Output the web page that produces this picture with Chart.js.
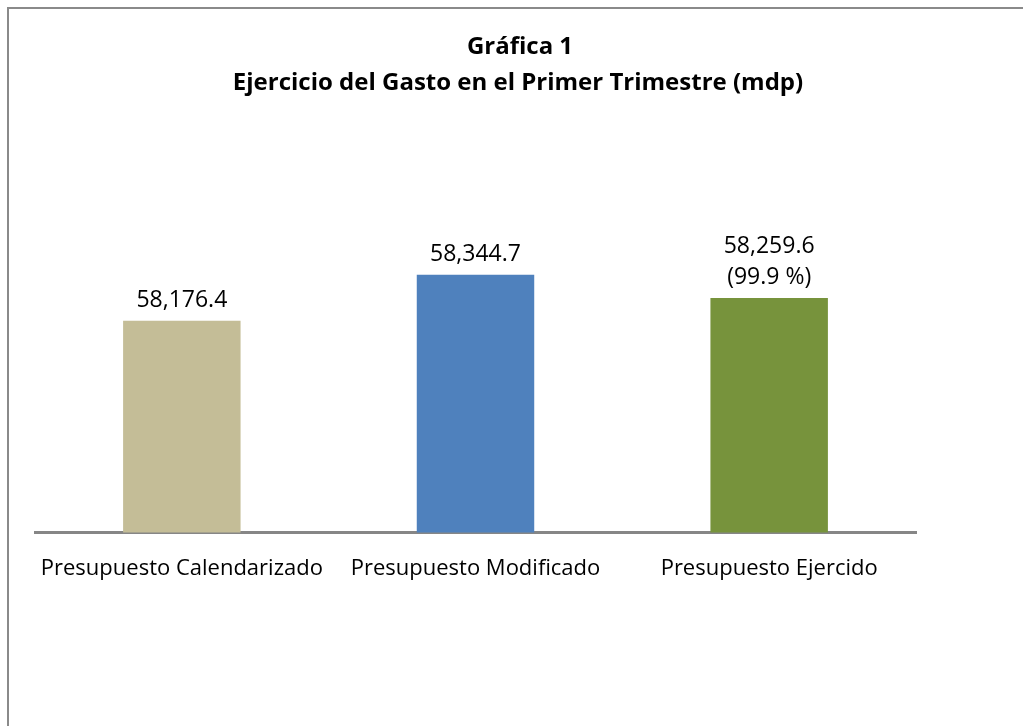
<!DOCTYPE html>
<html>
<head>
<meta charset="utf-8">
<script src="https://cdn.jsdelivr.net/npm/chart.js@4"></script>
<style>
  body { margin: 0; background: #fff; }
  #wrap { position: relative; width: 1023px; height: 726px; overflow: hidden; }
  #frame { position: absolute; left: 7px; top: 7px; width: 1100px; height: 800px;
           border-left: 2px solid #8a8a8a; border-top: 2px solid #8a8a8a; }
  canvas { position: absolute; left: 0; top: 0; }
</style>
</head>
<body>
<div id="wrap">
  <div id="frame"></div>
  <canvas id="gastoChart" width="1023" height="726"></canvas>
</div>
<script>
// Data
const categories = ['Presupuesto Calendarizado', 'Presupuesto Modificado', 'Presupuesto Ejercido'];
const values = [58176.4, 58344.7, 58259.6];
const extraLabels = ['', '', '(99.9 %)'];
const barColors = ['#C4BD97', '#4F81BD', '#77933C'];
const titleLines = ['Gráfica 1', 'Ejercicio del Gasto en el Primer Trimestre (mdp)'];
const yMin = 57400;
const yMax = 58600;

const fontFamily = '"Open Sans", "Liberation Sans", sans-serif';

// Two-line title centred on the whole frame
const frameTitle = {
  id: 'frameTitle',
  afterDraw(chart) {
    const ctx = chart.ctx;
    ctx.save();
    ctx.font = 'bold 24px ' + fontFamily;
    ctx.fillStyle = '#000';
    ctx.textAlign = 'center';
    ctx.textBaseline = 'middle';
    ctx.fillText(titleLines[0], 520, 47);
    ctx.fillText(titleLines[1], 518, 83);
    ctx.restore();
  }
};

// Labels above each bar
const valueLabels = {
  id: 'valueLabels',
  afterDatasetsDraw(chart) {
    const ctx = chart.ctx;
    const meta = chart.getDatasetMeta(0);
    ctx.save();
    ctx.font = '23px ' + fontFamily;
    ctx.fillStyle = '#000';
    ctx.textAlign = 'center';
    ctx.textBaseline = 'alphabetic';
    meta.data.forEach((bar, i) => {
      const txt = values[i].toLocaleString('en-US', { minimumFractionDigits: 1, maximumFractionDigits: 1 });
      let y = bar.y - 14;
      if (extraLabels[i]) {
        ctx.fillText(extraLabels[i], bar.x, y);
        y -= 31;
      }
      ctx.fillText(txt, bar.x, y);
    });
    ctx.restore();
  }
};

const ctx = document.getElementById('gastoChart').getContext('2d');
new Chart(ctx, {
  type: 'bar',
  data: {
    labels: categories,
    datasets: [{
      data: values,
      backgroundColor: barColors,
      borderWidth: 0,
      barPercentage: 0.4,
      categoryPercentage: 1.0,
    }],
  },
  options: {
    responsive: false,
    animation: false,
    layout: { padding: { left: 35, right: 107, top: 205, bottom: 121 } },
    plugins: {
      legend: { display: false },
      tooltip: { enabled: false },
      title: { display: false },
    },
    scales: {
      x: {
        grid: { display: false, drawTicks: false },
        border: { display: true, color: '#868686', width: 3 },
        ticks: { color: '#000', font: { family: fontFamily, size: 22 }, padding: 23, maxRotation: 0 },
      },
      y: {
        display: false,
        min: yMin,
        max: yMax,
      },
    },
  },
  plugins: [valueLabels, frameTitle],
});
</script>
</body>
</html>
